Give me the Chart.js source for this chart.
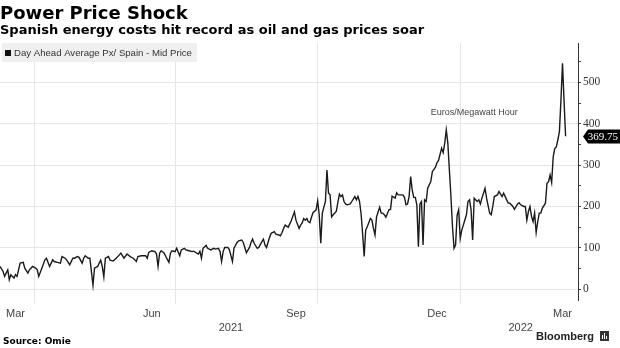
<!DOCTYPE html>
<html>
<head>
<meta charset="utf-8">
<script src="https://cdn.jsdelivr.net/npm/chart.js@4.4.1/dist/chart.umd.min.js"></script>
<style>
  html, body { margin: 0; padding: 0; background: #fff; }
  #wrap { position: relative; width: 620px; height: 348px; }
</style>
</head>
<body>
<div id="wrap"><canvas id="myChart" width="620" height="348"></canvas></div>
<script>
// day 0 = 10 Mar 2021, one reading every day or two
const days = [
  0, 2, 3, 5, 6, 7, 9, 10, 11, 13, 15, 16, 18, 19, 21, 23, 24, 25, 27, 29,
  30, 32, 34, 35, 37, 39, 40, 42, 43, 45, 47, 48, 50, 51, 53, 54, 55, 57, 58, 60,
  61, 63, 64, 65, 66, 67, 68, 70, 71, 73, 75, 77, 78, 80, 82, 84, 86, 88, 89, 91,
  94, 95, 96, 98, 100, 101, 102, 103, 104, 106, 107, 109, 110, 111, 113, 114, 116, 117, 119, 120,
  122, 124, 125, 127, 128, 129, 130, 131, 133, 134, 136, 138, 139, 141, 142, 143, 144, 145, 147, 148,
  150, 151, 153, 154, 156, 157, 159, 161, 162, 163, 164, 166, 167, 169, 170, 171, 172, 174, 175, 177,
  178, 180, 181, 182, 183, 184, 186, 187, 188, 190, 191, 192, 193, 194, 195, 196, 197, 198, 199, 200,
  201, 202, 204, 205, 206, 207, 208, 210, 211, 212, 213, 214, 215, 217, 219, 220, 221, 222, 223, 224,
  226, 227, 229, 230, 231, 232, 233, 234, 235, 236, 237, 239, 240, 241, 242, 243, 245, 246, 247, 248,
  249, 251, 252, 253, 255, 256, 257, 259, 260, 261, 262, 263, 264, 265, 266, 267, 268, 269, 270, 271,
  272, 273, 274, 275, 276, 278, 279, 281, 282, 283, 285, 286, 287, 288, 289, 290, 291, 292, 293, 294,
  295, 296, 297, 298, 299, 301, 302, 303, 304, 305, 306, 308, 309, 310, 311, 313, 314, 316, 317, 318,
  319, 321, 322, 324, 325, 327, 328, 329, 331, 332, 334, 335, 336, 338, 339, 340, 341, 342, 343, 344,
  345, 346, 347, 348, 349, 350, 352, 353, 354, 355, 356, 357, 358, 359, 360, 361, 362, 363, 364, 365
];
const prices = [
  55, 43, 31, 47, 23, 35, 27, 35, 31, 63, 65, 51, 39, 47, 55, 51, 47, 31, 51, 71,
  75, 55, 71, 67, 65, 63, 79, 75, 71, 59, 75, 75, 79, 77, 63, 75, 81, 75, 75, 10,
  51, 55, 63, 70, 55, 30, 75, 79, 70, 68, 75, 83, 87, 75, 85, 79, 75, 67, 79, 81,
  81, 75, 89, 93, 91, 85, 55, 87, 93, 87, 79, 65, 87, 93, 91, 99, 81, 95, 99, 95,
  93, 91, 92, 87, 85, 92, 75, 99, 106, 99, 95, 99, 97, 99, 91, 67, 91, 101, 101, 96,
  67, 99, 113, 117, 119, 113, 88, 101, 113, 121, 111, 99, 101, 115, 121, 107, 101, 126, 135, 139,
  133, 131, 129, 137, 147, 155, 150, 158, 166, 187, 167, 157, 147, 155, 160, 171, 167, 171, 163, 161,
  174, 185, 192, 214, 180, 111, 184, 212, 288, 232, 228, 175, 180, 188, 230, 224, 228, 212, 206, 204,
  206, 212, 224, 216, 224, 212, 183, 135, 79, 143, 151, 171, 167, 147, 131, 175, 198, 184, 184, 180,
  174, 192, 193, 225, 220, 233, 228, 228, 228, 222, 204, 206, 224, 272, 240, 222, 222, 204, 103, 206,
  212, 107, 216, 212, 244, 260, 284, 295, 306, 311, 341, 330, 353, 385, 353, 288, 224, 151, 99, 107,
  179, 192, 123, 143, 155, 180, 212, 216, 192, 119, 220, 212, 216, 206, 220, 244, 220, 184, 180, 200,
  224, 228, 236, 224, 232, 216, 208, 208, 200, 193, 206, 209, 204, 200, 200, 167, 188, 200, 176, 163,
  184, 137, 163, 184, 184, 196, 208, 256, 260, 276, 258, 320, 340, 344, 361, 381, 457, 546, 455, 369.75
];

// quarter starts (1 Apr, 1 Jul, 1 Oct 2021, 1 Jan 2022) carry the vertical grid
const gridDays = [22, 113, 205, 297];
const monthLabels = ['Mar', 'Jun', 'Sep', 'Dec', 'Mar'];
const monthLabelDays = [10, 98, 191, 282, 363];
const yearLabels = ['2021', '2022'];
const yearLabelDays = [149, 336];
const yTicks = [0, 50, 100, 150, 200, 250, 300, 350, 400, 450, 500, 550];

const title = 'Power Price Shock';
const subtitle = 'Spanish energy costs hit record as oil and gas prices soar';
const seriesName = 'Day Ahead Average Px/ Spain - Mid Price';
const unitNote = 'Euros/Megawatt Hour';
const source = 'Source: Omie';

const textPlugin = {
  id: 'texts',
  afterDraw(chart) {
    const ctx = chart.ctx;
    const xs = chart.scales.x;
    const ys = chart.scales.y;
    const area = chart.chartArea;
    ctx.save();
    ctx.textBaseline = 'alphabetic';

    ctx.fillStyle = '#000';
    ctx.font = 'bold 18px "DejaVu Sans"';
    ctx.fillText(title, 0, 19);
    ctx.font = 'bold 13px "DejaVu Sans"';
    ctx.fillText(subtitle, 0, 34);

    // legend
    ctx.fillStyle = '#efefef';
    ctx.fillRect(2, 43, 195, 19);
    ctx.fillStyle = '#111';
    ctx.fillRect(5, 50, 6, 6);
    ctx.fillStyle = '#333';
    ctx.font = '9.6px "Liberation Sans"';
    ctx.fillText(seriesName, 14, 56);

    // unit note
    ctx.fillStyle = '#444';
    ctx.font = '9px "Liberation Sans"';
    ctx.textAlign = 'center';
    ctx.fillText(unitNote, xs.getPixelForValue(306), ys.getPixelForValue(420));

    // x labels
    ctx.fillStyle = '#444';
    ctx.font = '11px "Liberation Sans"';
    monthLabels.forEach((m, i) => {
      ctx.fillText(m, xs.getPixelForValue(monthLabelDays[i]), 317);
    });
    yearLabels.forEach((m, i) => {
      ctx.fillText(m, xs.getPixelForValue(yearLabelDays[i]), 331);
    });

    // last value tag
    const last = prices[prices.length - 1];
    const py = Math.round(ys.getPixelForValue(last)) + 0.5;
    const left = area.right + 5;
    ctx.fillStyle = '#000';
    ctx.beginPath();
    ctx.moveTo(left, py);
    ctx.lineTo(left + 5, py - 7);
    ctx.lineTo(620, py - 7);
    ctx.lineTo(620, py + 7);
    ctx.lineTo(left + 5, py + 7);
    ctx.closePath();
    ctx.fill();
    ctx.fillStyle = '#fff';
    ctx.textAlign = 'right';
    ctx.textBaseline = 'middle';
    ctx.font = '11px "Liberation Sans Narrow"';
    ctx.fillText(last.toFixed(2), 618, py + 0.5);

    // footer
    ctx.textBaseline = 'alphabetic';
    ctx.textAlign = 'left';
    ctx.fillStyle = '#000';
    ctx.font = 'bold 9px "DejaVu Sans"';
    ctx.fillText(source, 3, 344);
    ctx.font = 'bold 11px "Liberation Sans"';
    ctx.textAlign = 'right';
    ctx.fillStyle = '#222';
    ctx.fillText('Bloomberg', 594, 340);
    ctx.fillStyle = '#333';
    ctx.fillRect(600, 331, 9, 10);
    ctx.fillStyle = '#fff';
    ctx.fillRect(602, 335, 1, 4);
    ctx.fillRect(604, 333, 1, 6);
    ctx.fillRect(606, 336, 1, 3);
    ctx.restore();
  }
};

new Chart(document.getElementById('myChart'), {
  type: 'line',
  data: {
    datasets: [{
      label: seriesName,
      data: days.map((d, i) => ({ x: d, y: prices[i] })),
      borderColor: '#1a1a1a',
      borderWidth: 1.4,
      pointRadius: 0,
      tension: 0
    }]
  },
  options: {
    responsive: false,
    animation: false,
    layout: { padding: { top: 43, left: 0, right: 0, bottom: 0 } },
    plugins: { legend: { display: false }, tooltip: { enabled: false } },
    scales: {
      x: {
        type: 'linear',
        min: 0,
        max: 373,
        afterBuildTicks: s => { s.ticks = gridDays.map(v => ({ value: v })); },
        afterFit: s => { s.height = 48; },
        ticks: { display: false },
        grid: { color: '#e6e6e6', tickLength: 4, drawTicks: true },
        border: { display: false }
      },
      y: {
        position: 'right',
        min: -26,
        max: 595,
        afterBuildTicks: s => { s.ticks = yTicks.map(v => ({ value: v })); },
        afterFit: s => { s.width = 42; },
        ticks: {
          padding: 2,
          color: '#333',
          font: { family: 'Liberation Sans Narrow', size: 11.5 },
          callback: v => (v % 100 === 0 ? v : '')
        },
        grid: {
          color: c => (c.tick && c.tick.value % 100 === 0 ? '#e6e6e6' : 'rgba(0,0,0,0)'),
          tickColor: '#444',
          tickLength: 3
        },
        border: { display: true, color: '#333', width: 1 }
      }
    }
  },
  plugins: [textPlugin]
});
</script>
</body>
</html>
